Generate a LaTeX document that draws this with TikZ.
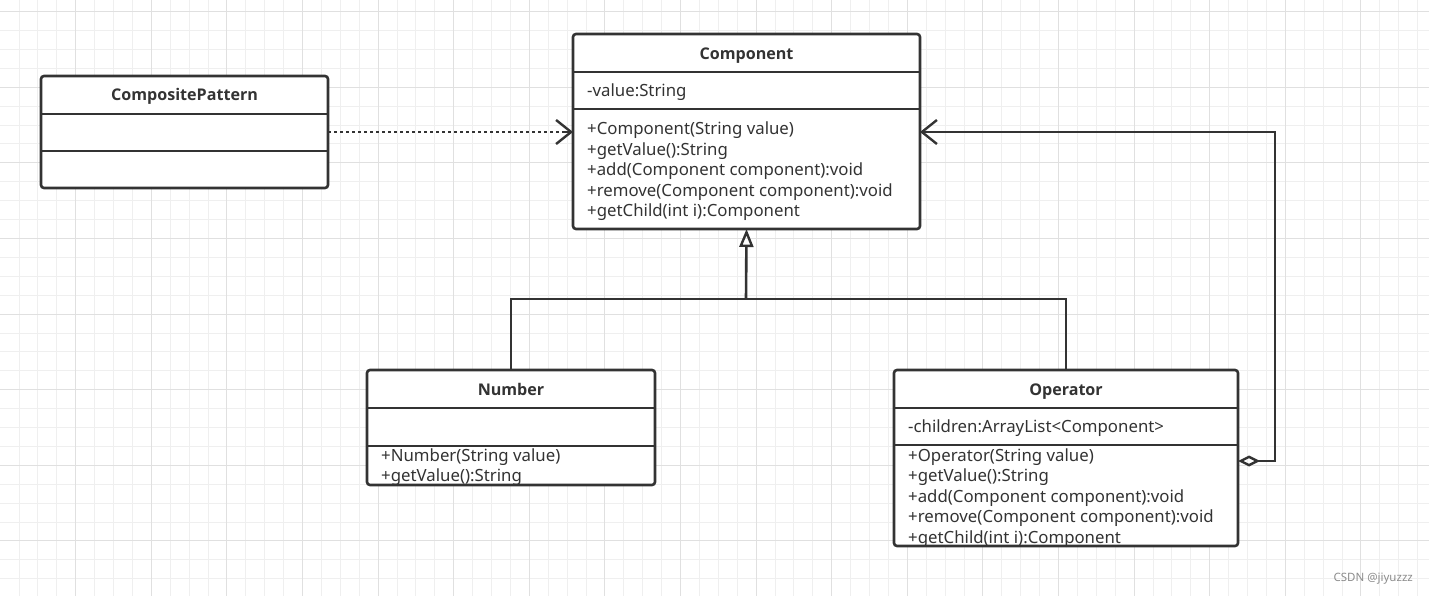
\documentclass[tikz,border=0pt]{standalone}
\usepackage{fontspec}
\setmainfont{Noto Sans}
\newfontfamily\titlefont{Open Sans}
\usetikzlibrary{arrows.meta,calc}
\definecolor{ink}{HTML}{333333}
\definecolor{gridminor}{HTML}{EFEFEF}
\definecolor{gridmajor}{HTML}{E0E0E0}
\tikzset{
  classbox/.style={draw=ink, line width=2.6pt, rounded corners=3pt, fill=white, anchor=north west, inner sep=0pt, outer sep=0pt},
  divider/.style={draw=ink, line width=2.3pt},
  title/.style={font=\titlefont\fontsize{16.1}{18}\selectfont\bfseries, text=ink, inner sep=0pt, text height=11pt, text depth=0pt},
  member/.style={font=\fontsize{16.8}{19}\selectfont, text=ink, anchor=base west, inner sep=0pt},
  conn/.style={draw=ink, line width=2.6pt},
  barb/.style={-{Straight Barb[length=15pt,width=24pt,line width=2.4pt]}},
  aggr/.style={{Diamond[open, length=22pt, width=11pt, line width=2.4pt]}-{Straight Barb[length=15pt,width=24pt,line width=2.4pt]}},
}
\begin{document}
\begin{tikzpicture}[x=1pt,y=-1pt]
\useasboundingbox (0,0) rectangle (1429,596);
\fill[white] (0,0) rectangle (1429,596);
% grid
\foreach \i in {0,...,75} {
  \pgfmathsetmacro\gx{19+18.9*\i}
  \draw[gridminor, line width=1pt] (\gx,0) -- (\gx,596);
}
\foreach \i in {0,...,31} {
  \pgfmathsetmacro\gy{11.7+18.9*\i}
  \draw[gridminor, line width=1pt] (0,\gy) -- (1429,\gy);
}
\foreach \i in {0,...,18} {
  \pgfmathsetmacro\gx{75.7+75.6*\i}
  \draw[gridmajor, line width=1pt] (\gx,0) -- (\gx,596);
}
\foreach \i in {0,...,7} {
  \pgfmathsetmacro\gy{11.7+75.6*\i}
  \draw[gridmajor, line width=1pt] (0,\gy) -- (1429,\gy);
}

% CompositePattern
\node[classbox, minimum width=287pt, minimum height=112pt] (cp) at (41,76) {};
\draw[divider] (41,114) -- (328,114);
\draw[divider] (41,151) -- (328,151);
\node[title] (cpt) at (184.5,95.5) {CompositePattern};

% Component
\node[classbox, minimum width=347pt, minimum height=195pt] (comp) at (573,34) {};
\draw[divider] (573,72) -- (920,72);
\draw[divider] (573,109) -- (920,109);
\node[title] (compt) at (746.5,54.5) {Component};
\node[member] (c0) at (587,97) {-value:String};
\node[member] (c1) at (587,135) {+Component(String value)};
\node[member] (c2) at (587,155.5) {+getValue():String};
\node[member] (c3) at (587,176) {+add(Component component):void};
\node[member] (c4) at (587,196.5) {+remove(Component component):void};
\node[member] (c5) at (587,217) {+getChild(int i):Component};

% Number
\node[classbox, minimum width=288pt, minimum height=115pt] (num) at (367,370) {};
\draw[divider] (367,408) -- (655,408);
\draw[divider] (367,446) -- (655,446);
\node[title] (numt) at (511,389.5) {Number};
\node[member] (n1) at (381,461) {+Number(String value)};
\node[member] (n2) at (381,481.5) {+getValue():String};

% Operator
\node[classbox, minimum width=344pt, minimum height=176pt] (op) at (894,370) {};
\draw[divider] (894,408) -- (1238,408);
\draw[divider] (894,445) -- (1238,445);
\node[title] (opt) at (1066,389.5) {Operator};
\node[member] (o0) at (908,432) {-children:ArrayList<Component>};
\node[member] (o1) at (908,461) {+Operator(String value)};
\node[member] (o2) at (908,481.5) {+getValue():String};
\node[member] (o3) at (908,502) {+add(Component component):void};
\node[member] (o4) at (908,522.5) {+remove(Component component):void};
\node[member] (o5) at (908,543) {+getChild(int i):Component};

% dependency (dotted)
\draw[conn, line cap=butt, dash pattern=on 3pt off 3pt]
  (cp.east |- 0,132) -- ($(comp.west |- 0,132)+(-6,0)$);
\draw[conn, barb]
  ($(comp.west |- 0,132)+(-8,0)$) -- (comp.west |- 0,132);

% generalization
\coordinate (gj) at (746,299);
\draw[conn] (num.north) -- (num.north |- gj) -- (op.north |- gj) -- (op.north);
\draw[conn, -{Triangle[open, length=18pt, width=14pt, line width=2.4pt]}] (gj) -- (comp.south);

% aggregation
\coordinate (ag1) at (1275,461);
\coordinate (ag2) at (1275,132);
\draw[conn, aggr]
  (op.east |- ag1) -- (ag1) -- (ag2) -- (comp.east |- ag2);

% watermark
\node[font=\fontsize{11.5}{13}\selectfont, text=black!45, anchor=east, inner sep=0pt] (wm) at (1413,579) {CSDN @jiyuzzz};
\end{tikzpicture}
\end{document}
